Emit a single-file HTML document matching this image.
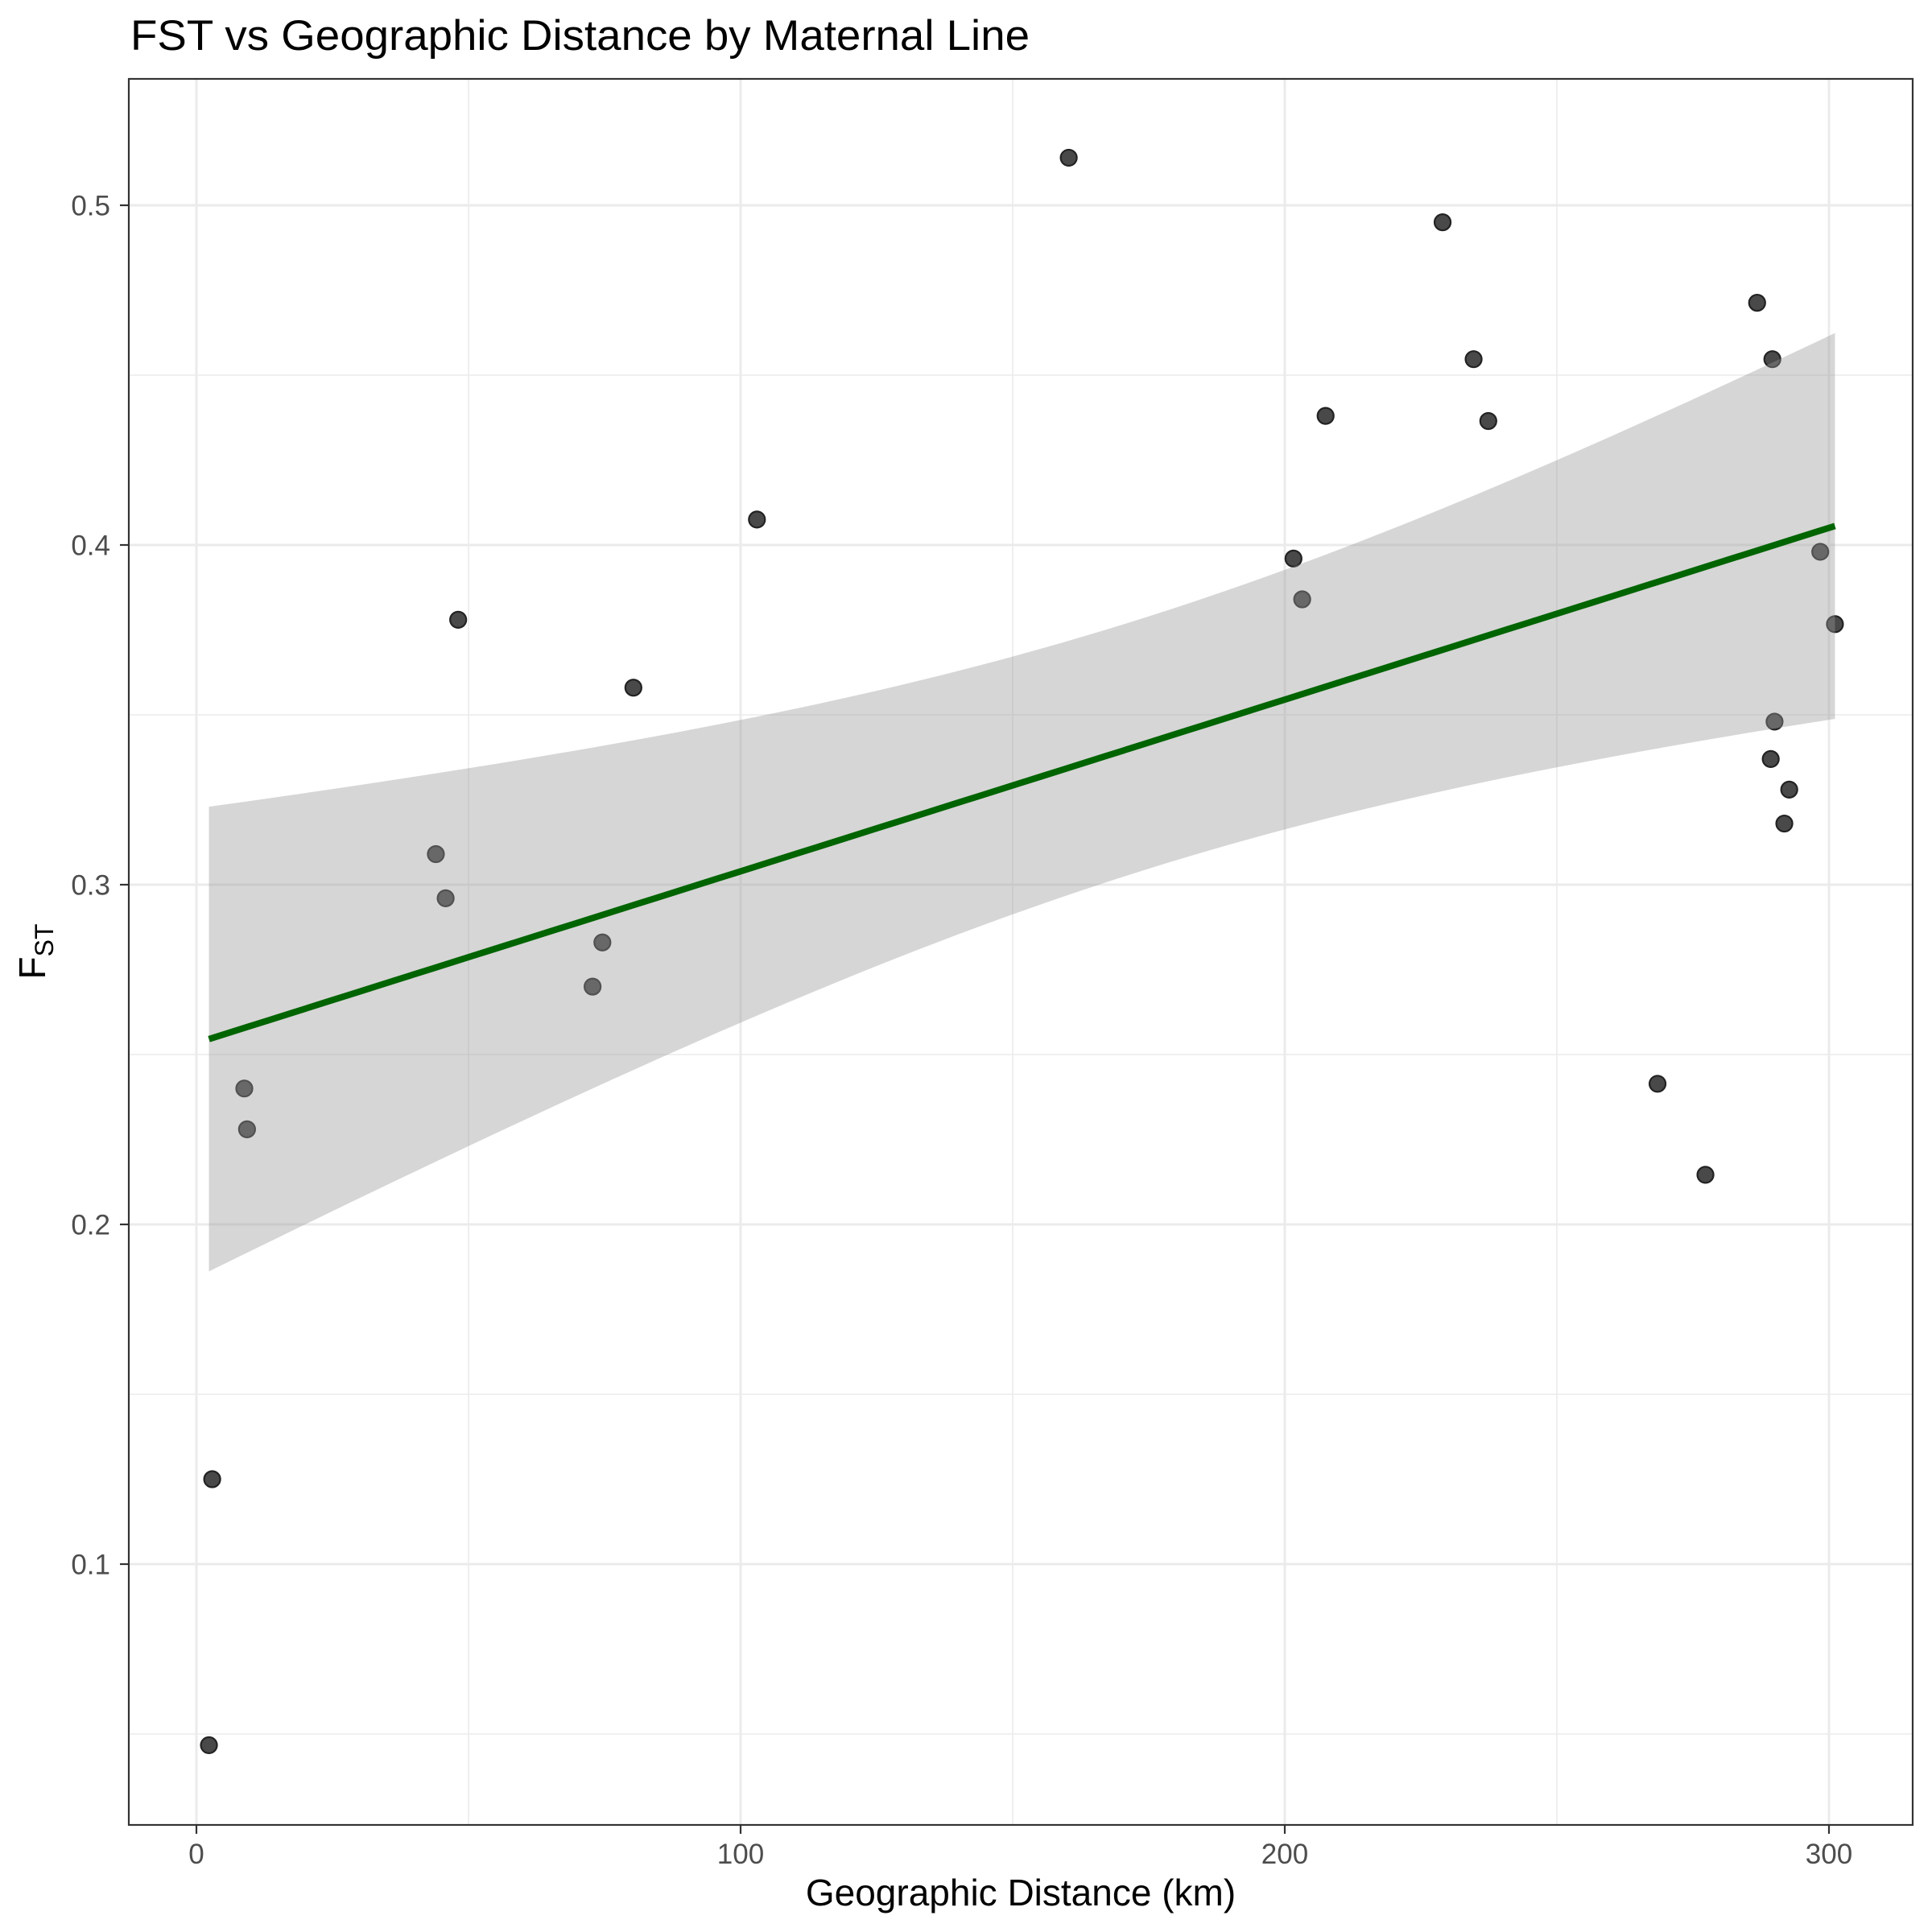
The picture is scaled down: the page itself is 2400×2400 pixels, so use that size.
<!DOCTYPE html>
<html><head><meta charset="utf-8"><style>
html,body{margin:0;padding:0;background:#fff;}
svg{display:block;font-family:"Liberation Sans",Arial,sans-serif;}
</style></head><body>
<svg id="chart" width="2400" height="2400" viewBox="0 0 2400 2400" xmlns="http://www.w3.org/2000/svg">
<rect width="2400" height="2400" fill="#fff"/>
<text x="162" y="62" font-size="53" textLength="1117" lengthAdjust="spacingAndGlyphs" fill="#000">FST vs Geographic Distance by Maternal Line</text>
<g id="grid"></g>
<g id="points"></g>
<g id="ribbon"></g>
<g id="fit"></g>
<rect x="160" y="98" width="2216" height="2169" fill="none" stroke="#333" stroke-width="2.2"/>
<g id="axes"></g>
<text x="1268" y="2367" font-size="46" text-anchor="middle" fill="#000">Geographic Distance (km)</text>
<text transform="translate(56,1182) rotate(-90)" font-size="46" text-anchor="middle" fill="#000">F<tspan font-size="32" dy="10">ST</tspan></text>
</svg>
<script>
const distKm = [2.3,2.9,8.8,9.3,44,45.8,48.1,72.8,74.6,80.3,103,160.3,201.6,203.2,207.5,229,234.7,237.4,268.5,277.3,286.8,289.6,290,289.3,292.7,291.8,298.4,301.1];
const fstVals = [0.0467,0.125,0.240,0.228,0.309,0.296,0.378,0.270,0.283,0.358,0.4075,0.514,0.396,0.384,0.438,0.495,0.4547,0.4365,0.2414,0.2146,0.4713,0.4547,0.348,0.337,0.328,0.318,0.398,0.3767];
const xTicks = [0,100,200,300];
const xMinor = [50,150,250];
const yTicks = [0.1,0.2,0.3,0.4,0.5];
const yMinor = [0.05,0.15,0.25,0.35,0.45];

const NS="http://www.w3.org/2000/svg";
const L=160,R=2376,T=98,B=2267;
function sx(v){return 244+v*6.76;}
function sy(v){return 255+(0.5-v)*4220;}
function mk(tag,attrs,parent){const e=document.createElementNS(NS,tag);for(const k in attrs)e.setAttribute(k,attrs[k]);parent.appendChild(e);return e;}

const grid=document.getElementById('grid');
xMinor.forEach(v=>{const e=mk('line',{x1:sx(v),x2:sx(v),y1:T,y2:B,stroke:'#ebebeb','stroke-width':1.6},grid);

});
yMinor.forEach(v=>{const e=mk('line',{x1:L,x2:R,y1:sy(v),y2:sy(v),stroke:'#ebebeb','stroke-width':1.6},grid);

});
xTicks.forEach(v=>{const e=mk('line',{x1:sx(v),x2:sx(v),y1:T,y2:B,stroke:'#ebebeb','stroke-width':3},grid);

});
yTicks.forEach(v=>{const e=mk('line',{x1:L,x2:R,y1:sy(v),y2:sy(v),stroke:'#ebebeb','stroke-width':3},grid);

});

const pts=document.getElementById('points');
distKm.forEach((d,i)=>{const c=mk('circle',{cx:sx(d),cy:sy(fstVals[i]),r:10,fill:'#494949',stroke:'#222','stroke-width':2.2},pts);

});

// linear fit + 95% CI
const n=distKm.length;
const mx=distKm.reduce((a,b)=>a+b,0)/n, my=fstVals.reduce((a,b)=>a+b,0)/n;
let sxx=0,sxy=0;for(let i=0;i<n;i++){sxx+=(distKm[i]-mx)**2;sxy+=(distKm[i]-mx)*(fstVals[i]-my);}
const slope=sxy/sxx, icpt=my-slope*mx;
let sse=0;for(let i=0;i<n;i++){sse+=(fstVals[i]-(icpt+slope*distKm[i]))**2;}
const s=Math.sqrt(sse/(n-2)), tq=2.056;
const x0=Math.min(...distKm), x1=Math.max(...distKm);
const up=[],lo=[],fitPts=[];
for(let k=0;k<=80;k++){const x=x0+(x1-x0)*k/80;const yh=icpt+slope*x;const se=s*Math.sqrt(1/n+(x-mx)**2/sxx);
up.push(sx(x)+','+sy(yh+tq*se));lo.push(sx(x)+','+sy(yh-tq*se));fitPts.push(sx(x)+','+sy(yh));}
const rib=mk('polygon',{points:up.concat(lo.reverse()).join(' '),fill:'#999',opacity:0.4},document.getElementById('ribbon'));


const fl=mk('polyline',{points:fitPts.join(' '),fill:'none',stroke:'#006400','stroke-width':8},document.getElementById('fit'));



const ax=document.getElementById('axes');
xTicks.forEach(v=>{const t=mk('line',{x1:sx(v),x2:sx(v),y1:B,y2:B+11,stroke:'#333','stroke-width':2.2},ax);


const l=mk('text',{x:sx(v),y:2315,'font-size':35,fill:'#4d4d4d','text-anchor':'middle'},ax);l.textContent=String(v);

});
yTicks.forEach(v=>{const t=mk('line',{x1:L-11,x2:L,y1:sy(v),y2:sy(v),stroke:'#333','stroke-width':2.2},ax);


const l=mk('text',{x:137,y:sy(v)+12.5,'font-size':35,fill:'#4d4d4d','text-anchor':'end'},ax);l.textContent=v.toFixed(1);

});
</script>
</body></html>
